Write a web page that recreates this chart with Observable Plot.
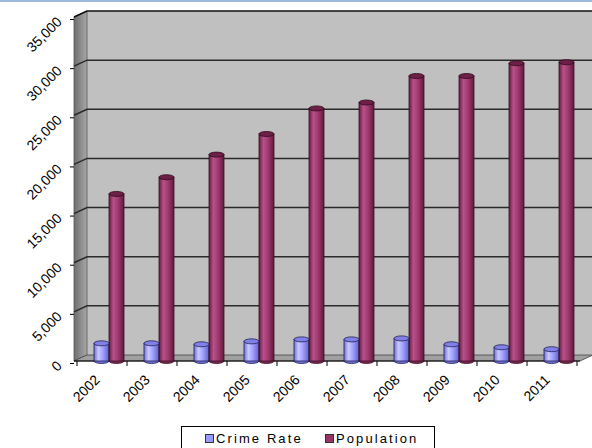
<!DOCTYPE html>
<html>
<head>
<meta charset="utf-8">
<script src="https://cdn.jsdelivr.net/npm/d3@7"></script>
<script src="https://cdn.jsdelivr.net/npm/@observablehq/plot@0.6"></script>
<style>
  body { margin: 0; background: #fff; font-family: "Liberation Sans", Arial, sans-serif; }
  #wrap { position: relative; width: 592px; height: 448px; overflow: hidden; }
  #topline { position: absolute; left: 0; top: 0; width: 592px; height: 2px; background: #9db9de; }
  #legend { position: absolute; left: 181px; top: 426px; width: 254px; height: 26px; border: 1px solid #000;
            box-sizing: border-box; font-size: 13px; color: #000; letter-spacing: 2.1px; }
  .item { position: absolute; top: 4px; display: flex; align-items: center; }
  .sw { width: 7px; height: 7px; border: 1px solid #333; margin-right: 2px; }
</style>
</head>
<body>
<div id="wrap">
  <div id="chart"></div>
  <div id="topline"></div>
  <div id="legend">
    <div class="item" style="left:23px"><span class="sw" style="background:#9999ff"></span>Crime Rate</div>
    <div class="item" style="left:143px"><span class="sw" style="background:#993366"></span>Population</div>
  </div>
</div>
<script>
const years = ["2002","2003","2004","2005","2006","2007","2008","2009","2010","2011"];
const crimeRate = [1800, 1800, 1700, 2000, 2200, 2200, 2300, 1700, 1400, 1200];
const population = [17000, 18700, 21000, 23100, 25700, 26300, 29000, 29000, 30300, 30400];
const yTicks = [0, 5000, 10000, 15000, 20000, 25000, 30000, 35000];

const crimeData = years.map((y, i) => ({year: y, value: crimeRate[i]}));
const popData = years.map((y, i) => ({year: y, value: population[i]}));

const CRIME_INSET = [17, 18], POP_INSET = [32, 3];

// 3D-looking walls, floor and gridlines, positioned through the plot's scales
const DX = 13, DY = -6;
function walls(index, scales, values, dims) {
  const x = scales.x, y = scales.y;
  const left = dims.marginLeft, right = dims.width - dims.marginRight;
  const y0 = y(0), yTop = y(35000);
  const g = d3.create("svg:g");
  g.append("rect").attr("x", left + DX).attr("y", yTop + DY)
    .attr("width", dims.width - left - DX).attr("height", y0 - yTop)
    .attr("fill", "#c0c0c0");
  g.append("polygon")
    .attr("points", [[left, y0], [left, yTop], [left + DX, yTop + DY], [left + DX, y0 + DY]].join(" "))
    .attr("fill", "url(#gradWall)").attr("stroke", "#555").attr("stroke-width", 0.8);
  g.append("polygon")
    .attr("points", [[left, y0], [left + DX, y0 + DY], [right + DX, y0 + DY], [right, y0]].join(" "))
    .attr("fill", "#a0a0a0").attr("stroke", "#444").attr("stroke-width", 0.8);
  for (const v of yTicks) {
    if (v === 0) continue;
    const stroke = v === 35000 ? "#111" : "#2a2a2a";
    g.append("path")
      .attr("d", `M${left},${y(v)}L${left + DX},${y(v) + DY}L${dims.width},${y(v) + DY}`)
      .attr("fill", "none").attr("stroke", stroke).attr("stroke-width", 1.5);
  }
  const bounds = years.map(d => x(d)).concat([x(years[years.length - 1]) + x.bandwidth()]);
  for (const bx of bounds) {
    g.append("line").attr("x1", bx).attr("x2", bx).attr("y1", y0).attr("y2", y0 + 5)
      .attr("stroke", "#000").attr("stroke-width", 1);
  }
  g.append("line").attr("x1", left).attr("x2", right).attr("y1", y0).attr("y2", y0)
    .attr("stroke", "#000").attr("stroke-width", 1);
  return g.node();
}

// elliptical caps and bases so the bars look like cylinders
function caps(data, inset, capFill, baseFill, stroke) {
  return function (index, scales) {
    const x = scales.x, y = scales.y;
    const g = d3.create("svg:g");
    const w = x.bandwidth() - inset[0] - inset[1];
    for (const d of data) {
      const cx = x(d.year) + inset[0] + w / 2;
      g.append("ellipse").attr("cx", cx).attr("cy", y(0)).attr("rx", w / 2).attr("ry", 2.5)
        .attr("fill", baseFill).attr("stroke", stroke).attr("stroke-width", 0.8);
    }
    return g.node();
  };
}
function tops(data, inset, capFill, stroke) {
  return function (index, scales) {
    const x = scales.x, y = scales.y;
    const g = d3.create("svg:g");
    const w = x.bandwidth() - inset[0] - inset[1];
    for (const d of data) {
      const cx = x(d.year) + inset[0] + w / 2;
      g.append("ellipse").attr("cx", cx).attr("cy", y(d.value)).attr("rx", w / 2).attr("ry", 2.5)
        .attr("fill", capFill).attr("stroke", stroke).attr("stroke-width", 0.8);
    }
    return g.node();
  };
}

const plot = Plot.plot({
  width: 592,
  height: 420,
  marginLeft: 74,
  marginRight: 12,
  marginTop: 17,
  marginBottom: 59,
  style: {fontFamily: "'Liberation Sans', Arial, sans-serif", fontSize: "14px", color: "#000", background: "transparent"},
  x: {domain: years, paddingInner: 0, paddingOuter: 0},
  y: {domain: [0, 35000]},
  marks: [
    walls,
    caps(crimeData, CRIME_INSET, null, "#7070d8", "#202050"),
    caps(popData, POP_INSET, null, "#7a2550", "#3a0f24"),
    Plot.barY(crimeData, {x: "year", y: "value", fill: "url(#gradCrime)", insetLeft: CRIME_INSET[0], insetRight: CRIME_INSET[1]}),
    Plot.barY(popData, {x: "year", y: "value", fill: "url(#gradPop)", insetLeft: POP_INSET[0], insetRight: POP_INSET[1]}),
    Plot.barY(crimeData, {x: "year", y: "value", fill: "none", stroke: "#202050", strokeWidth: 0.8, insetLeft: CRIME_INSET[0], insetRight: CRIME_INSET[1]}),
    Plot.barY(popData, {x: "year", y: "value", fill: "none", stroke: "#3a0f24", strokeWidth: 0.8, insetLeft: POP_INSET[0], insetRight: POP_INSET[1]}),
    tops(crimeData, CRIME_INSET, "#8080e8", "#202050"),
    tops(popData, POP_INSET, "#6e1f48", "#2e0a1c"),
    Plot.axisY({ticks: yTicks, tickFormat: d3.format(","), label: null, tickRotate: -45, tickSize: 4, tickPadding: 11, fontSize: 14, dy: 2}),
    Plot.axisX({label: null, tickRotate: -45, tickSize: 0, tickPadding: 10, fontSize: 14, dx: -5, dy: 6})
  ]
});

const ns = "http://www.w3.org/2000/svg";
const defs = document.createElementNS(ns, "defs");
defs.innerHTML = `
  <linearGradient id="gradPop" x1="0" x2="1" y1="0" y2="0">
    <stop offset="0" stop-color="#65203f"/>
    <stop offset="0.3" stop-color="#b8508a"/>
    <stop offset="0.6" stop-color="#a03a6e"/>
    <stop offset="1" stop-color="#5e1a3c"/>
  </linearGradient>
  <linearGradient id="gradCrime" x1="0" x2="1" y1="0" y2="0">
    <stop offset="0" stop-color="#7070d8"/>
    <stop offset="0.3" stop-color="#c8c8ff"/>
    <stop offset="0.6" stop-color="#9f9fff"/>
    <stop offset="1" stop-color="#6060c8"/>
  </linearGradient>
  <linearGradient id="gradWall" x1="0" x2="1" y1="0" y2="0">
    <stop offset="0" stop-color="#6e6e6e"/>
    <stop offset="1" stop-color="#a8a8a8"/>
  </linearGradient>`;
plot.insertBefore(defs, plot.firstChild);
document.getElementById("chart").appendChild(plot);
</script>
</body>
</html>
